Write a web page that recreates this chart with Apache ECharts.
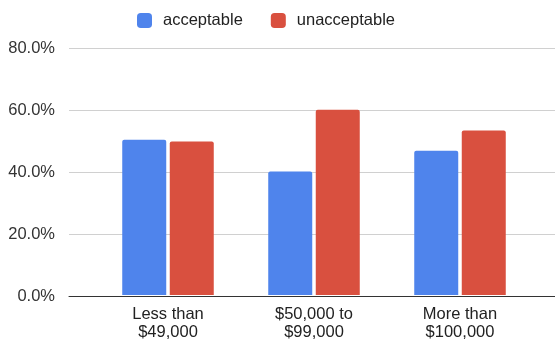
<!DOCTYPE html>
<html>
<head>
<meta charset="utf-8">
<script src="https://cdn.jsdelivr.net/npm/echarts@6/dist/echarts.min.js"></script>
<style>
  html, body { margin: 0; padding: 0; background: #fff; }
  #chart { width: 555px; height: 341px; }
</style>
</head>
<body>
<div id="chart"></div>
<script>
// Income brackets and share of answers per bracket (percent)
const categories = ['Less than\n$49,000', '$50,000 to\n$99,000', 'More than\n$100,000'];
const acceptable = [50.3, 40.0, 46.7];
const unacceptable = [49.7, 60.0, 53.3];
const yTicks = { min: 0, max: 80, interval: 20 };

const FONT = 'Liberation Sans, Arial, sans-serif';
const FS = 16.5;
const BLUE = '#4f84ec';
const RED = '#d9503f';

const chart = echarts.init(document.getElementById('chart'), null, { renderer: 'canvas' });

chart.setOption({
  animation: false,
  textStyle: { fontFamily: FONT },
  legend: {
    top: 7,
    left: 132,
    itemWidth: 15,
    itemHeight: 15,
    itemGap: 28,
    icon: 'roundRect',
    textStyle: { fontSize: FS, color: '#222', fontFamily: FONT, padding: [0, 0, 0, 6] },
    data: ['acceptable', 'unacceptable']
  },
  grid: [
    // frame: gridlines, y labels and baseline
    { left: 69, right: 0, top: 48, bottom: 44.5 },
    // bars
    { left: 95, right: 22, top: 48, bottom: 44.5 }
  ],
  xAxis: [
    {
      gridIndex: 0, type: 'category', data: ['', '', ''],
      axisLine: { show: true, lineStyle: { color: '#333', width: 1 } },
      axisTick: { show: false }, axisLabel: { show: false }
    },
    {
      gridIndex: 1, type: 'category', data: categories,
      axisLine: { show: false }, axisTick: { show: false },
      axisLabel: {
        fontSize: FS, color: '#222', fontFamily: FONT,
        lineHeight: 18, margin: 10
      }
    }
  ],
  yAxis: [
    {
      gridIndex: 0, type: 'value',
      min: yTicks.min, max: yTicks.max, interval: yTicks.interval,
      axisLine: { show: false }, axisTick: { show: false },
      axisLabel: {
        fontSize: FS, color: '#333', fontFamily: FONT, margin: 14,
        formatter: v => v.toFixed(1) + '%'
      },
      splitLine: { show: true, lineStyle: { color: '#d0d0d0', width: 1 } }
    },
    {
      gridIndex: 1, type: 'value',
      min: yTicks.min, max: yTicks.max, interval: yTicks.interval,
      show: false, splitLine: { show: false }
    }
  ],
  series: [
    {
      name: 'acceptable', type: 'bar', data: acceptable,
      xAxisIndex: 1, yAxisIndex: 1,
      barWidth: 44, barGap: '8%',
      itemStyle: { color: BLUE, borderRadius: [2, 2, 0, 0] }
    },
    {
      name: 'unacceptable', type: 'bar', data: unacceptable,
      xAxisIndex: 1, yAxisIndex: 1,
      barWidth: 44, barGap: '8%',
      itemStyle: { color: RED, borderRadius: [2, 2, 0, 0] }
    }
  ]
});
</script>
</body>
</html>
